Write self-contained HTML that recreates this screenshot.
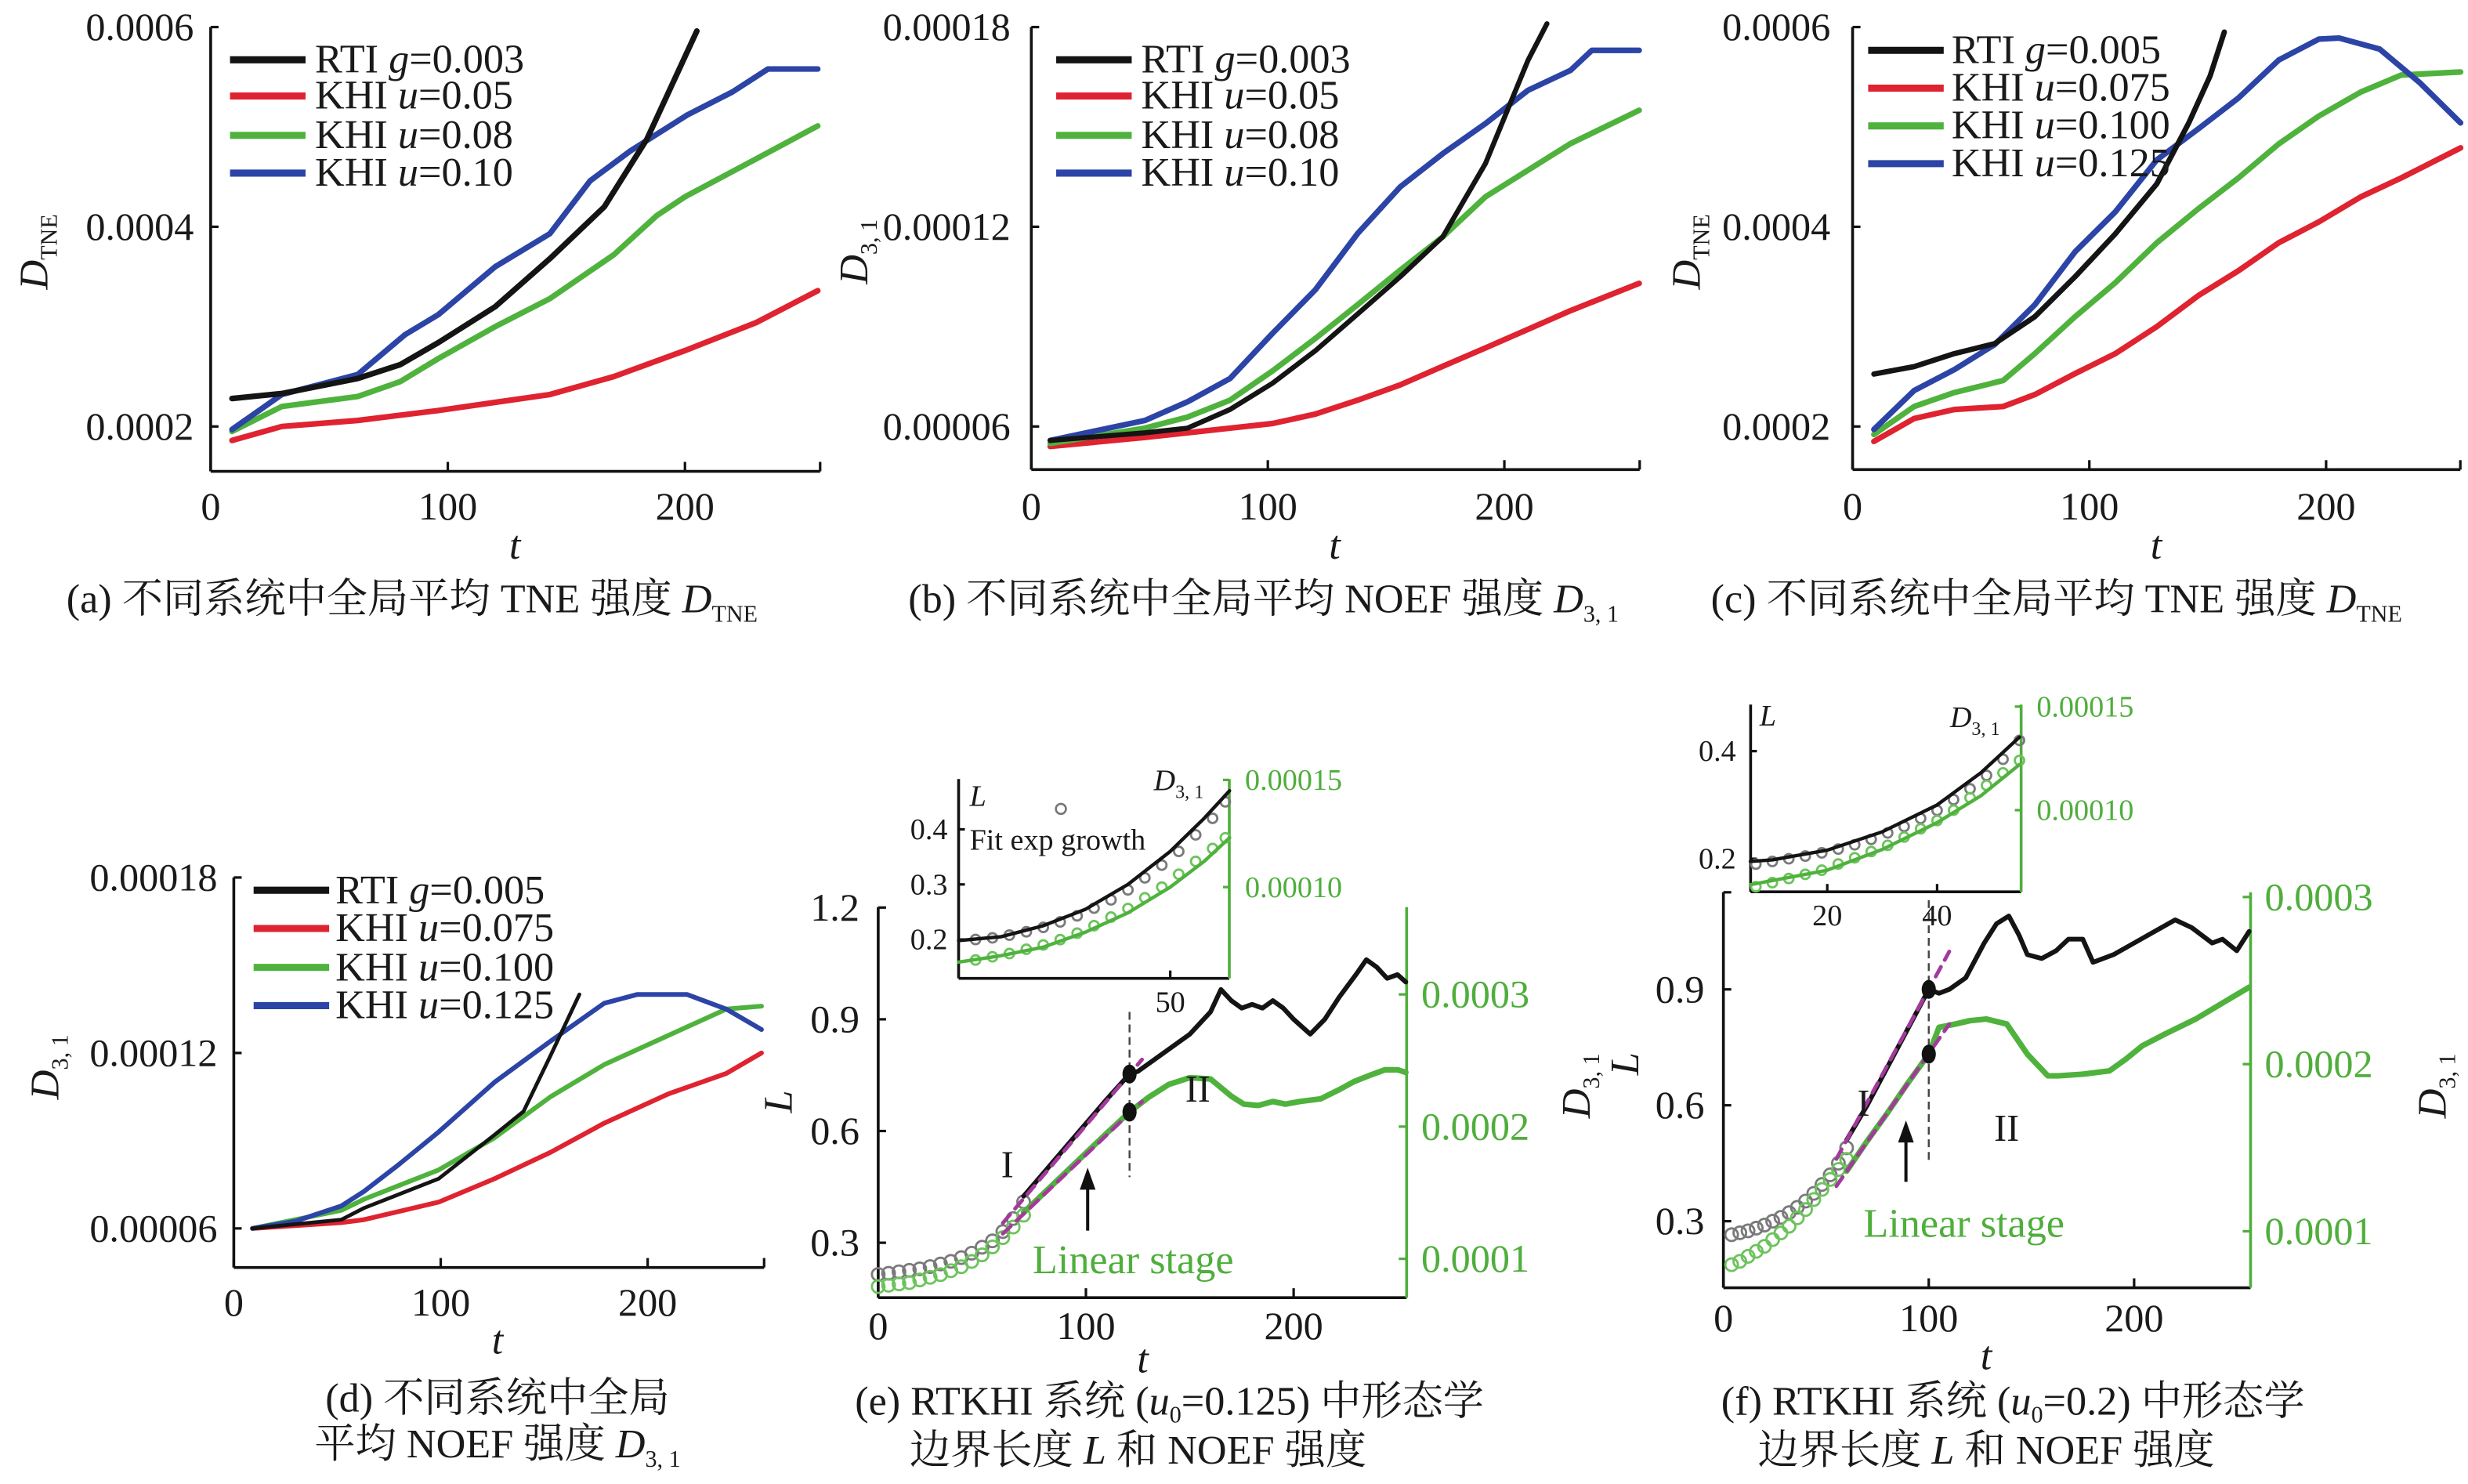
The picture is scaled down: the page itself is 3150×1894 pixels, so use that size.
<!DOCTYPE html>
<html><head><meta charset="utf-8"><title>TNE / NOEF figure</title>
<style>
html,body{margin:0;padding:0;background:#fff;}
svg{display:block;}
text{font-family:"Liberation Serif","Noto Serif CJK SC","Noto Sans CJK SC",serif;fill:#1a1a1a;}
.tk{font-size:24px;}
.lg{font-size:26px;}
.cap{font-size:26px;}
.g{fill:#4fae3c;}
.it{font-style:italic;}
</style></head>
<body>
<svg id="fig" xmlns="http://www.w3.org/2000/svg" width="3150" height="1894" viewBox="0 0 1568 943">
<rect x="0" y="0" width="1568" height="943" fill="#fff"/>
<g id="layer"></g>

<!-- axis titles -->
<text transform="translate(30,160) rotate(-90)" text-anchor="middle" font-size="26"><tspan class="it">D</tspan><tspan font-size="15" dy="6">TNE</tspan></text>
<text transform="translate(551,160) rotate(-90)" text-anchor="middle" font-size="26"><tspan class="it">D</tspan><tspan font-size="15" dy="6">3, 1</tspan></text>
<text transform="translate(1080,160) rotate(-90)" text-anchor="middle" font-size="26"><tspan class="it">D</tspan><tspan font-size="15" dy="6">TNE</tspan></text>
<text transform="translate(37,678) rotate(-90)" text-anchor="middle" font-size="26"><tspan class="it">D</tspan><tspan font-size="15" dy="6">3, 1</tspan></text>
<text transform="translate(503,700) rotate(-90)" text-anchor="middle" font-size="26" class="it">L</text>
<text transform="translate(1010,690) rotate(-90)" text-anchor="middle" font-size="26"><tspan class="it">D</tspan><tspan font-size="15" dy="6">3, 1</tspan></text>
<text transform="translate(1041,676) rotate(-90)" text-anchor="middle" font-size="26" class="it">L</text>
<text transform="translate(1554,690) rotate(-90)" text-anchor="middle" font-size="26"><tspan class="it">D</tspan><tspan font-size="15" dy="6">3, 1</tspan></text>

<text x="327" y="355" font-size="26" class="it" text-anchor="middle">t</text>
<text x="848" y="355" font-size="26" class="it" text-anchor="middle">t</text>
<text x="1370" y="355" font-size="26" class="it" text-anchor="middle">t</text>
<text x="316" y="860" font-size="26" class="it" text-anchor="middle">t</text>
<text x="726" y="872" font-size="26" class="it" text-anchor="middle">t</text>
<text x="1262" y="870" font-size="26" class="it" text-anchor="middle">t</text>

<!-- legends -->
<g class="lg">
<text x="200" y="46">RTI <tspan class="it">g</tspan>=0.003</text>
<text x="200" y="69">KHI <tspan class="it">u</tspan>=0.05</text>
<text x="200" y="94">KHI <tspan class="it">u</tspan>=0.08</text>
<text x="200" y="118">KHI <tspan class="it">u</tspan>=0.10</text>
</g>
<g class="lg">
<text x="725" y="46">RTI <tspan class="it">g</tspan>=0.003</text>
<text x="725" y="69">KHI <tspan class="it">u</tspan>=0.05</text>
<text x="725" y="94">KHI <tspan class="it">u</tspan>=0.08</text>
<text x="725" y="118">KHI <tspan class="it">u</tspan>=0.10</text>
</g>
<g class="lg">
<text x="1240" y="40">RTI <tspan class="it">g</tspan>=0.005</text>
<text x="1240" y="64">KHI <tspan class="it">u</tspan>=0.075</text>
<text x="1240" y="88">KHI <tspan class="it">u</tspan>=0.100</text>
<text x="1240" y="112">KHI <tspan class="it">u</tspan>=0.125</text>
</g>
<g class="lg">
<text x="213" y="574">RTI <tspan class="it">g</tspan>=0.005</text>
<text x="213" y="598">KHI <tspan class="it">u</tspan>=0.075</text>
<text x="213" y="623">KHI <tspan class="it">u</tspan>=0.100</text>
<text x="213" y="647">KHI <tspan class="it">u</tspan>=0.125</text>
</g>

<!-- annotations e/f -->
<text x="640" y="748" font-size="24" text-anchor="middle">I</text>
<text x="761" y="700" font-size="24" text-anchor="middle">II</text>
<text x="656" y="809" font-size="26" class="g">Linear stage</text>
<text x="1184" y="709" font-size="24" text-anchor="middle">I</text>
<text x="1275" y="725" font-size="24" text-anchor="middle">II</text>
<text x="1184" y="786" font-size="26" class="g">Linear stage</text>
<text x="616" y="540" font-size="19">Fit exp growth</text>
<circle cx="674" cy="514" r="3.2" fill="none" stroke="#777" stroke-width="1.3"/>
<text x="616" y="512" font-size="19" class="it">L</text>
<text x="733" y="502" font-size="19"><tspan class="it">D</tspan><tspan font-size="12" dy="5">3, 1</tspan></text>
<text x="1118" y="461" font-size="19" class="it">L</text>
<text x="1239" y="462" font-size="19"><tspan class="it">D</tspan><tspan font-size="12" dy="5">3, 1</tspan></text>

<!-- captions -->
<text class="cap" x="42" y="389">(a) 不同系统中全局平均 TNE 强度 <tspan class="it">D</tspan><tspan font-size="15" dy="6">TNE</tspan></text>
<text class="cap" x="577" y="389">(b) 不同系统中全局平均 NOEF 强度 <tspan class="it">D</tspan><tspan font-size="15" dy="6">3, 1</tspan></text>
<text class="cap" x="1087" y="389">(c) 不同系统中全局平均 TNE 强度 <tspan class="it">D</tspan><tspan font-size="15" dy="6">TNE</tspan></text>
<text class="cap" x="316" y="897" text-anchor="middle">(d) 不同系统中全局</text>
<text class="cap" x="316" y="926" text-anchor="middle">平均 NOEF 强度 <tspan class="it">D</tspan><tspan font-size="15" dy="6">3, 1</tspan></text>
<text class="cap" x="743" y="899" text-anchor="middle">(e) RTKHI 系统 (<tspan class="it">u</tspan><tspan font-size="15" dy="5">0</tspan><tspan dy="-5">=0.125) 中形态学</tspan></text>
<text class="cap" x="723" y="930" text-anchor="middle">边界长度 <tspan class="it">L</tspan> 和 NOEF 强度</text>
<text class="cap" x="1279" y="899" text-anchor="middle">(f) RTKHI 系统 (<tspan class="it">u</tspan><tspan font-size="15" dy="5">0</tspan><tspan dy="-5">=0.2) 中形态学</tspan></text>
<text class="cap" x="1262" y="930" text-anchor="middle">边界长度 <tspan class="it">L</tspan> 和 NOEF 强度</text>
</svg>

<script>
// ===== data: panel (a) D_TNE =====
const aRtiT=[9,30,62,80,96,120,143,166,184,205];
const aRtiV=[0.000228,0.000233,0.000248,0.000262,0.000284,0.00032,0.000368,0.00042,0.000488,0.000596];
const aK05T=[9,30,62,96,143,170,200,230,256];
const aK05V=[0.000186,0.0002,0.000206,0.000216,0.000232,0.00025,0.000276,0.000304,0.000336];
const aK08T=[9,30,62,80,96,120,143,170,188,200,230,256];
const aK08V=[0.000195,0.00022,0.00023,0.000245,0.000268,0.0003,0.000328,0.000372,0.000411,0.00043,0.000468,0.000501];
const aK10T=[9,30,62,82,96,120,143,160,177,201,220,235,256];
const aK10V=[0.000197,0.000232,0.000252,0.000292,0.000312,0.00036,0.000393,0.000446,0.000476,0.000512,0.000535,0.000558,0.000558];
// ===== panel (b) D31 =====
const bRtiT=[8,48,66,84,102,120,138,156,174,192,210,218];
const bRtiV=[0.0000558,0.0000581,0.0000595,0.0000651,0.000073,0.0000827,0.0000938,0.000105,0.000117,0.000139,0.00017,0.000181];
const bK05T=[8,48,84,102,120,138,156,174,192,210,228,257];
const bK05V=[0.000054,0.0000567,0.0000595,0.0000609,0.0000637,0.0000679,0.0000725,0.0000781,0.0000836,0.0000892,0.0000948,0.000103];
const bK08T=[8,48,66,84,102,120,138,156,174,192,210,228,257];
const bK08V=[0.0000549,0.0000595,0.0000628,0.0000679,0.0000767,0.0000864,0.0000966,0.000107,0.000117,0.000129,0.000137,0.000145,0.000155];
const bK10T=[8,48,66,84,102,120,138,156,174,192,210,228,237,257];
const bK10V=[0.0000558,0.0000618,0.0000674,0.0000744,0.000088,0.000101,0.000118,0.000132,0.000142,0.000151,0.000161,0.000167,0.000173,0.000173];
// ===== panel (c) D_TNE =====
const cRtiT=[9,26,43,60,77,94,111,128.5,142,151,157];
const cRtiV=[0.0002525,0.00026,0.000273,0.000283,0.00031,0.00035,0.000393,0.000443,0.000504,0.000551,0.000595];
const cK075T=[9,26,43,63.6,77,94,111,128.5,146,163,180,197,214.7,231.8,256.8];
const cK075V=[0.000185,0.000208,0.000217,0.00022,0.000232,0.000253,0.000273,0.0003,0.000331,0.000356,0.000384,0.000405,0.00043,0.000449,0.000479];
const cK100T=[9,26,43,63.6,77,94,111,128.5,146,163,180,197,214.7,231.8,256.8];
const cK100V=[0.000192,0.00022,0.000234,0.000246,0.000273,0.00031,0.000344,0.000384,0.000418,0.000449,0.000483,0.000511,0.000535,0.000552,0.000555];
const cK125T=[9,26,43,60,77,94,111,128.5,146,163,180,197,205.5,222.6,239.7,256.8];
const cK125V=[0.000197,0.000236,0.000257,0.000282,0.000322,0.000375,0.000415,0.000467,0.000498,0.000529,0.000567,0.000588,0.000589,0.000578,0.000544,0.000504];
// ===== panel (d) D31 =====
const dRtiT=[9,52,63,99,126,140,153,167];
const dRtiV=[0.00006,0.000063,0.000067,0.000077,0.000092,0.0001,0.000119,0.00014];
const dK075T=[9,52,63,99,126,153,179,210,238,255];
const dK075V=[0.00006,0.000062,0.000063,0.000069,0.000077,0.000086,0.000096,0.000106,0.000113,0.00012];
const dK100T=[9,52,63,99,126,153,179,210,238,255];
const dK100V=[0.00006,0.0000662,0.00007,0.00008,0.000091,0.000105,0.000116,0.000126,0.000135,0.000136];
const dK125T=[9,30,52,63,80,99,126,153,179,195,219,238,255];
const dK125V=[0.00006,0.0000625,0.0000677,0.0000727,0.000082,0.000093,0.00011,0.000124,0.000137,0.00014,0.00014,0.000135,0.000128];
// ===== panel (e) L and D31 =====
const eCircT=[0,5,10,15,20,25,30,35,40,45,50,55,60,65,70];
const eCircL=[0.215,0.218,0.222,0.226,0.23,0.236,0.243,0.25,0.26,0.272,0.288,0.305,0.33,0.365,0.41];
const eCircD=[7.9e-5,8.0e-5,8.1e-5,8.2e-5,8.4e-5,8.6e-5,8.8e-5,9.1e-5,9.4e-5,9.8e-5,10.3e-5,10.9e-5,11.6e-5,12.4e-5,13.3e-5];
const eLT=[70,80,90,100,110,121,125,130,140,150,160,165,170,175,180,185,190,195,200,208,215,222,230,235,240,245,250,254];
const eLV=[0.425,0.49,0.555,0.62,0.685,0.753,0.76,0.78,0.82,0.86,0.92,0.98,0.95,0.93,0.94,0.93,0.95,0.93,0.9,0.86,0.9,0.96,1.02,1.06,1.04,1.01,1.02,1.0];
const eDT=[70,80,90,100,110,121,130,140,150,160,170,176,183,190,196,203,213,222,229,237,244,250,254];
const eDV=[13.5e-5,15.0e-5,16.5e-5,18.0e-5,19.5e-5,21.1e-5,22.2e-5,23.2e-5,23.7e-5,23.6e-5,22.3e-5,21.7e-5,21.6e-5,21.9e-5,21.7e-5,21.9e-5,22.1e-5,22.8e-5,23.4e-5,23.9e-5,24.3e-5,24.3e-5,24.1e-5];
const eFitT=[60,127];
const eFitL=[0.353,0.792];
const eFitD=[11.9e-5,21.9e-5];
const eMarkT=[121];
const eMarkL=[0.753];
const eMarkD=[21.1e-5];
// inset (e)
const ieLineT=[0,10,20,30,40,50,58,64];
const ieLineL=[0.198,0.205,0.225,0.255,0.3,0.36,0.42,0.47];
const ieLineD=[6.5e-5,6.8e-5,7.2e-5,7.9e-5,8.8e-5,10.0e-5,11.2e-5,12.3e-5];
const ieCircT=[4,8,12,16,20,24,28,32,36,40,44,48,52,56,60,63];
const ieCircL=[0.2,0.203,0.208,0.214,0.222,0.232,0.243,0.257,0.272,0.29,0.312,0.335,0.36,0.39,0.42,0.45];
const ieCircD=[6.6e-5,6.75e-5,6.9e-5,7.1e-5,7.3e-5,7.55e-5,7.85e-5,8.2e-5,8.6e-5,9.0e-5,9.5e-5,10.0e-5,10.6e-5,11.2e-5,11.8e-5,12.3e-5];
// ===== panel (f) =====
const fCircT=[4,8,12,16,20,24,28,32,36,40,44,48,52,56,60];
const fCircL=[0.265,0.27,0.275,0.282,0.29,0.3,0.31,0.322,0.336,0.352,0.372,0.395,0.42,0.45,0.49];
const fCircD=[8.0e-5,8.2e-5,8.5e-5,8.8e-5,9.1e-5,9.5e-5,9.9e-5,10.3e-5,10.8e-5,11.3e-5,11.9e-5,12.5e-5,13.1e-5,13.7e-5,14.3e-5];
const fLT=[60,70,80,90,100,105,110,118,127,133,139,144,148,155,162,168,175,180,190,200,210,220,228,238,243,250,256];
const fLV=[0.51,0.6,0.7,0.8,0.9,0.89,0.9,0.93,1.02,1.07,1.09,1.04,0.99,0.98,1.0,1.03,1.03,0.97,0.99,1.02,1.05,1.08,1.06,1.02,1.03,1.0,1.05];
const fDT=[60,70,80,90,100,105,113,120,128,138,148,158,163,175,188,196,204,215,230,245,256];
const fDV=[13.6e-5,15.4e-5,17.1e-5,18.9e-5,20.6e-5,22.2e-5,22.4e-5,22.6e-5,22.7e-5,22.4e-5,20.6e-5,19.3e-5,19.3e-5,19.4e-5,19.6e-5,20.3e-5,21.1e-5,21.8e-5,22.7e-5,23.8e-5,24.6e-5];
const fFitT=[55,110];
const fFitL=[0.461,0.998];
const fFitD=[12.7e-5,22.4e-5];
const fMarkT=[100];
const fMarkL=[0.9];
const fMarkD=[20.6e-5];
// inset (f)
const ifLineT=[6,10,20,30,40,48,55];
const ifLineL=[0.195,0.198,0.216,0.25,0.3,0.36,0.426];
const ifLineD=[6.4e-5,6.6e-5,7.1e-5,8.1e-5,9.4e-5,10.7e-5,12.2e-5];
const ifCircT=[7,10,13,16,19,22,25,28,31,34,37,40,43,46,49,52,55];
const ifCircL=[0.19,0.195,0.2,0.205,0.211,0.218,0.226,0.236,0.248,0.26,0.275,0.29,0.31,0.33,0.355,0.385,0.42];
const ifCircD=[6.3e-5,6.5e-5,6.7e-5,6.9e-5,7.1e-5,7.4e-5,7.7e-5,8.0e-5,8.3e-5,8.7e-5,9.1e-5,9.5e-5,10.0e-5,10.6e-5,11.2e-5,11.8e-5,12.4e-5];
// tick labels
const ticksA=[0.0002,0.0004,0.0006], ticksALab=['0.0002','0.0004','0.0006'];
const ticksB=[0.00006,0.00012,0.00018], ticksBLab=['0.00006','0.00012','0.00018'];
const ticksT=[0,100,200], ticksTLab=['0','100','200'];
const ticksL=[0.3,0.6,0.9,1.2], ticksLLab=['0.3','0.6','0.9','1.2'];
const ticksLf=[0.3,0.6,0.9], ticksLfLab=['0.3','0.6','0.9'];
const ticksD=[1e-4,2e-4,3e-4], ticksDLab=['0.0001','0.0002','0.0003'];
const ticksIL=[0.2,0.3,0.4], ticksILLab=['0.2','0.3','0.4'];
const ticksIfL=[0.2,0.4], ticksIfLLab=['0.2','0.4'];
const ticksID=[1e-4,1.5e-4], ticksIDLab=['0.00010','0.00015'];
const ticksIeT=[50], ticksIeTLab=['50'];
const ticksIfT=[20,40], ticksIfTLab=['20','40'];

// ===== rendering =====
const NS='http://www.w3.org/2000/svg';
const layer=document.getElementById('layer');
const C={k:'#141414',r:'#df2330',g:'#4fb23d',b:'#2b44a6',gl:'#4fae3c',m:'#a23a9c',gray:'#7a7a7a'};
function mk(tag,attrs,parent){const el=document.createElementNS(NS,tag);for(const k in attrs)el.setAttribute(k,attrs[k]);(parent||layer).appendChild(el);return el;}
function lin(d0,d1,p0,p1){return v=>p0+(v-d0)*(p1-p0)/(d1-d0);}
function series(ts,vs,xf,yf,color,w,name,dash){
  let d='';for(let i=0;i<ts.length;i++)d+=(i?'L':'M')+xf(ts[i]).toFixed(2)+','+yf(vs[i]).toFixed(2);
  const p=mk('path',{d:d,fill:'none',stroke:color,'stroke-width':w,'stroke-linejoin':'round','stroke-linecap':'round'});
  if(dash)p.setAttribute('stroke-dasharray',dash);
  
  
}
function circles(ts,vs,xf,yf,color,r,name){
  const g=mk('g',{});
  
  
  for(let i=0;i<ts.length;i++){
    const c=mk('circle',{cx:xf(ts[i]).toFixed(2),cy:yf(vs[i]).toFixed(2),r:r,fill:'none',stroke:color,'stroke-width':1.4},g);
    
    
  }
}
function dots(ts,vs,xf,yf,name){
  for(let i=0;i<ts.length;i++){
    const e=mk('ellipse',{cx:xf(ts[i]),cy:yf(vs[i]),rx:4.5,ry:6,fill:'#111'});
    
    
  }
}
function line(x1,y1,x2,y2,color,w,name,dash){
  const l=mk('line',{x1:x1,y1:y1,x2:x2,y2:y2,stroke:color,'stroke-width':w});
  if(dash)l.setAttribute('stroke-dasharray',dash);
  
  
}
function label(x,y,txt,anchor,size,color,name){
  const t=mk('text',{x:x,y:y,'text-anchor':anchor,'font-size':size});
  if(color)t.setAttribute('style','fill:'+color);
  t.textContent=txt;
  
  
}
function yTicks(vals,labs,yf,xAxis,dir,len,lx,anchor,size,color,name){
  for(let i=0;i<vals.length;i++){const y=yf(vals[i]);
    line(xAxis,y,xAxis+dir*len,y,color||'#111',1.6,name+'-tick');
    label(lx,y+size*0.33,labs[i],anchor,size,color,name+'-label');}
}
function xTicks(vals,labs,xf,yAxis,len,ly,size,name){
  for(let i=0;i<vals.length;i++){const x=xf(vals[i]);
    line(x,yAxis,x,yAxis-len,'#111',1.6,name+'-tick');
    label(x,ly,labs[i],'middle',size,null,name+'-label');}
}
function frame(x0,y0,x1,y1,name,rightColor){
  line(x0,y0,x0,y1,'#111',1.8,name+'-y-axis');
  line(x0,y1,x1,y1,'#111',1.8,name+'-x-axis');
  if(rightColor)line(x1,y0,x1,y1,rightColor,1.8,name+'-right-axis');
  else line(x1,y1,x1,y1-6,'#111',1.6,name+'-end-tick');
}
function legendLines(x0,x1,ys,colors,name){
  for(let i=0;i<ys.length;i++)line(x0,ys[i],x1,ys[i],colors[i],4.5,name+'-swatch');
}

// panel a
const xa=lin(0,200,133.7,435.1), ya=lin(0.0002,0.0006,271,17.2);
frame(133.7,17.2,521,299.5,'panel-a');
yTicks(ticksA,ticksALab,ya,133.7,1,5,123,'end',25,null,'y-tick-a');
xTicks(ticksT,ticksTLab,xa,299.5,6,330,25,'x-tick-a');
series(aK05T,aK05V,xa,ya,C.r,3.6,'line-khi-u005-a');
series(aK08T,aK08V,xa,ya,C.g,3.6,'line-khi-u008-a');
series(aK10T,aK10V,xa,ya,C.b,3.6,'line-khi-u010-a');
series(aRtiT,aRtiV,xa,ya,C.k,3.6,'line-rti-a');
legendLines(146,194,[38,61,86,110],[C.k,C.r,C.g,C.b],'legend-a');

// panel b
const xb=lin(0,200,655.2,955.8), yb=lin(0.00006,0.00018,271,17.2);
frame(655.2,17.2,1041.8,298.4,'panel-b');
yTicks(ticksB,ticksBLab,yb,655.2,1,5,642,'end',25,null,'y-tick-b');
xTicks(ticksT,ticksTLab,xb,298.4,6,330,25,'x-tick-b');
series(bK05T,bK05V,xb,yb,C.r,3.6,'line-khi-u005-b');
series(bK08T,bK08V,xb,yb,C.g,3.6,'line-khi-u008-b');
series(bK10T,bK10V,xb,yb,C.b,3.6,'line-khi-u010-b');
series(bRtiT,bRtiV,xb,yb,C.k,3.2,'line-rti-b');
legendLines(671,719,[38,61,86,110],[C.k,C.r,C.g,C.b],'legend-b');

// panel c
const xc=lin(0,200,1177.1,1478), yc=lin(0.0002,0.0006,271,17.2);
frame(1177.1,17.2,1563.3,298.4,'panel-c');
yTicks(ticksA,ticksALab,yc,1177.1,1,5,1163,'end',25,null,'y-tick-c');
xTicks(ticksT,ticksTLab,xc,298.4,6,330,25,'x-tick-c');
series(cK075T,cK075V,xc,yc,C.r,3.6,'line-khi-u0075-c');
series(cK100T,cK100V,xc,yc,C.g,3.6,'line-khi-u0100-c');
series(cK125T,cK125V,xc,yc,C.b,3.6,'line-khi-u0125-c');
series(cRtiT,cRtiV,xc,yc,C.k,3.4,'line-rti-c');
legendLines(1187,1235,[32,56,80,104],[C.k,C.r,C.g,C.b],'legend-c');

// panel d
const xd=lin(0,200,148.4,411.4), yd=lin(0.00006,0.00018,780.6,557.6);
frame(148.4,557.6,485.4,805.4,'panel-d');
yTicks(ticksB,ticksBLab,yd,148.4,1,5,138,'end',25,null,'y-tick-d');
xTicks(ticksT,ticksTLab,xd,805.4,6,836,25,'x-tick-d');
series(dK075T,dK075V,xd,yd,C.r,3,'line-khi-u0075-d');
series(dK100T,dK100V,xd,yd,C.g,3,'line-khi-u0100-d');
series(dK125T,dK125V,xd,yd,C.b,3,'line-khi-u0125-d');
series(dRtiT,dRtiV,xd,yd,C.k,2.4,'line-rti-d');
legendLines(161,209,[565.7,590,614.7,639],[C.k,C.r,C.g,C.b],'legend-d');

// panel e
const xe=lin(0,200,557.9,821.9), yeL=lin(0.3,0.9,789.7,647.7), yeD=lin(1e-4,3e-4,799.9,631.9);
frame(557.9,576.4,893.7,824.6,'panel-e',C.gl);
yTicks(ticksL,ticksLLab,yeL,557.9,1,5,546,'end',25,null,'y-tick-e-left');
yTicks(ticksD,ticksDLab,yeD,893.7,-1,5,903,'start',25,C.gl,'y-tick-e-right');
xTicks(ticksT,ticksTLab,xe,824.6,6,851,25,'x-tick-e');
circles(eCircT,eCircL,xe,yeL,C.gray,4,'circles-L-e');
circles(eCircT,eCircD,xe,yeD,'#6cc35c',4,'circles-D31-e');
series(eDT,eDV,xe,yeD,C.g,3.6,'line-D31-e');
series(eLT,eLV,xe,yeL,C.k,3,'line-L-e');
series(eFitT,eFitL,xe,yeL,C.m,2.4,'fit-L-e','7,5');
series(eFitT,eFitD,xe,yeD,C.m,2.4,'fit-D31-e','7,5');
line(xe(121),643,xe(121),748,'#444',1.2,'divider-e','5,3');
dots(eMarkT,eMarkL,xe,yeL,'marker-L-e');
dots(eMarkT,eMarkD,xe,yeD,'marker-D31-e');
line(691,782,691,752,'#111',2,'arrow-e');
mk('path',{d:'M686,756 L691,742 L696,756 Z',fill:'#111'});

// inset e
const xie=lin(0,50,609,743.5), yieL=lin(0.2,0.4,597,527), yieD=lin(1e-4,1.5e-4,563.7,495.6);
frame(609,495,781,621.7,'inset-e',C.gl);
yTicks(ticksIL,ticksILLab,yieL,609,1,4,602,'end',19,null,'y-tick-inset-e');
yTicks(ticksID,ticksIDLab,yieD,781,-1,4,791,'start',19,C.gl,'y-tick-inset-e-right');
xTicks(ticksIeT,ticksIeTLab,xie,621.7,5,643,19,'x-tick-inset-e');
circles(ieCircT,ieCircL,xie,yieL,C.gray,3,'inset-circles-L-e');
circles(ieCircT,ieCircD,xie,yieD,'#6cc35c',3,'inset-circles-D31-e');
series(ieLineT,ieLineL,xie,yieL,C.k,2.2,'inset-fit-L-e');
series(ieLineT,ieLineD,xie,yieD,C.g,2.2,'inset-fit-D31-e');

// panel f
const xf=lin(0,200,1095,1356), yfL=lin(0.3,0.9,776,628.7), yfD=lin(1e-4,3e-4,782.4,570);
frame(1095,567,1430,818.3,'panel-f',C.gl);
yTicks(ticksLf,ticksLfLab,yfL,1095,1,5,1083,'end',25,null,'y-tick-f-left');
yTicks(ticksD,ticksDLab,yfD,1430,-1,5,1439,'start',25,C.gl,'y-tick-f-right');
line(1095,567,1100,567,'#111',1.6,'y-tick-f-top');
xTicks(ticksT,ticksTLab,xf,818.3,6,846,25,'x-tick-f');
circles(fCircT,fCircL,xf,yfL,C.gray,4,'circles-L-f');
circles(fCircT,fCircD,xf,yfD,'#6cc35c',4,'circles-D31-f');
series(fDT,fDV,xf,yfD,C.g,3.6,'line-D31-f');
series(fLT,fLV,xf,yfL,C.k,3,'line-L-f');
series(fFitT,fFitL,xf,yfL,C.m,2.4,'fit-L-f','7,5');
series(fFitT,fFitD,xf,yfD,C.m,2.4,'fit-D31-f','7,5');
line(xf(100),572,xf(100),740,'#444',1.2,'divider-f','5,3');
dots(fMarkT,fMarkL,xf,yfL,'marker-L-f');
dots(fMarkT,fMarkD,xf,yfD,'marker-D31-f');
line(1211,751,1211,722,'#111',2,'arrow-f');
mk('path',{d:'M1206,726 L1211,712 L1216,726 Z',fill:'#111'});

// inset f
const xif=lin(20,40,1161,1230.8), yifL=lin(0.2,0.4,545.7,477.3), yifD=lin(1e-4,1.5e-4,514.8,449);
frame(1112.3,447.7,1284.2,566.7,'inset-f',C.gl);
yTicks(ticksIfL,ticksIfLLab,yifL,1112.3,1,4,1103,'end',19,null,'y-tick-inset-f');
yTicks(ticksID,ticksIDLab,yifD,1284.2,-1,4,1294,'start',19,C.gl,'y-tick-inset-f-right');
xTicks(ticksIfT,ticksIfTLab,xif,566.7,5,588,19,'x-tick-inset-f');
circles(ifCircT,ifCircL,xif,yifL,C.gray,3,'inset-circles-L-f');
circles(ifCircT,ifCircD,xif,yifD,'#6cc35c',3,'inset-circles-D31-f');
series(ifLineT,ifLineL,xif,yifL,C.k,2.2,'inset-fit-L-f');
series(ifLineT,ifLineD,xif,yifD,C.g,2.2,'inset-fit-D31-f');
</script>
</body></html>
